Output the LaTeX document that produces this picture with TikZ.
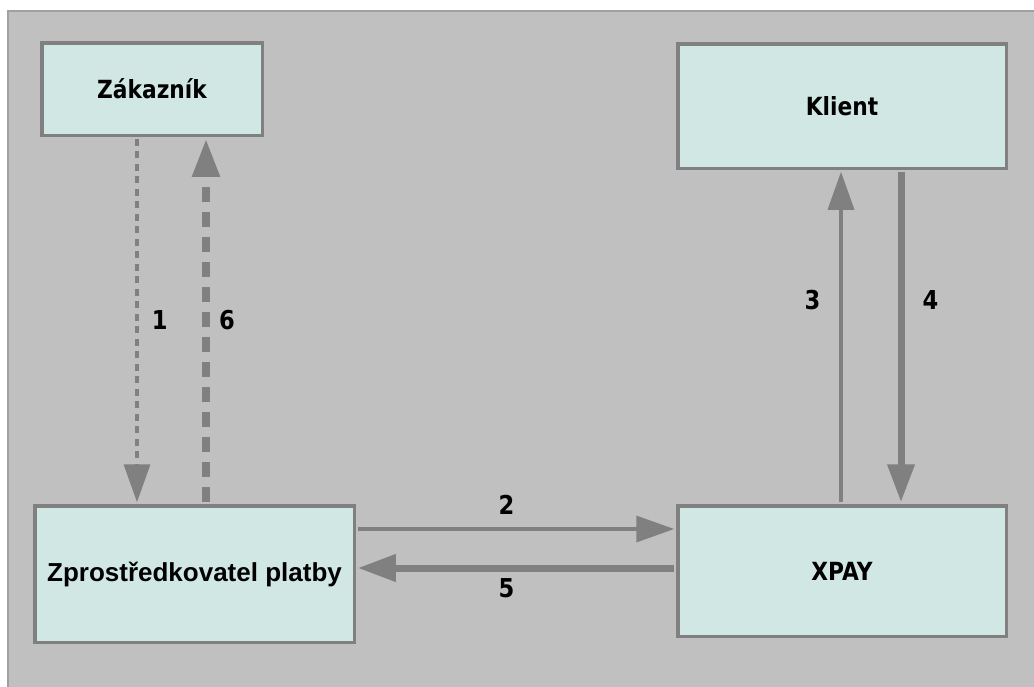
\documentclass[tikz,border=0pt]{standalone}
\usepackage{fontspec}
\usetikzlibrary{arrows.meta}
\newfontfamily\lblfont[FakeStretch=0.87]{DejaVu Sans}
\newfontfamily\arialfont{Liberation Sans}
\definecolor{boxfill}{HTML}{D0E7E4}
\definecolor{linegray}{HTML}{808080}
\definecolor{backgray}{HTML}{C0C0C0}
\definecolor{framegray}{HTML}{A0A0A0}

\begin{document}
\begin{tikzpicture}[x=1pt,y=-1pt,
    box/.style={rectangle,draw=linegray,fill=boxfill,line width=3.5pt,inner sep=0pt,
        font=\lblfont\bfseries\fontsize{25}{30}\selectfont},
    flow/.style={draw=linegray,line width=3.5pt,shorten >=1.75pt,shorten <=1.75pt,
        -{Triangle[length=38pt,width=26pt]}},
    heavy/.style={flow,line width=7pt},
    num/.style={font=\lblfont\bfseries\fontsize{26}{30}\selectfont,inner sep=0pt}]
    \useasboundingbox (0,0) rectangle (1034,686);
    \draw[fill=backgray,draw=framegray,line width=1.5pt] (8,11) rectangle (1040,692);

    % parties
    \node[box,minimum width=220.5pt,minimum height=92.5pt] (zak) at (152,89) {Zákazník};
    \node[box,minimum width=328.5pt,minimum height=124.5pt] (klient) at (842,106) {Klient};
    \node[box,minimum width=319.5pt,minimum height=136.5pt,
          font=\arialfont\bfseries\fontsize{26}{30}\selectfont] (zpr) at (194.5,574) {Zprostředkovatel platby};
    \node[box,minimum width=328.5pt,minimum height=130.5pt] (xpay) at (842,571) {XPAY};

    % lanes of the connectors
    \coordinate (c1) at (137,0);
    \coordinate (c6) at (206,0);
    \coordinate (c3) at (841,0);
    \coordinate (c4) at (901,0);
    \coordinate (r2) at (0,529);
    \coordinate (r5) at (0,568);

    \draw[flow,dash pattern=on 7pt off 5.5pt]
        (zak.south -| c1) -- node[num,right=13pt] {1} (zpr.north -| c1);
    \draw[heavy,line width=8pt,dash pattern=on 15pt off 10pt]
        (zpr.north -| c6) -- node[num,right=9pt] {6} (zak.south -| c6);
    \draw[flow] (zpr.east |- r2) -- node[num,pos=0.47,above=13pt] {2} (xpay.west |- r2);
    \draw[flow] (xpay.north -| c3) -- node[num,pos=0.61,left=19pt] {3} (klient.south -| c3);
    \draw[heavy] (klient.south -| c4) -- node[num,pos=0.39,right=18pt] {4} (xpay.north -| c4);
    \draw[heavy] (xpay.west |- r5) -- node[num,pos=0.53,below=7pt] {5} (zpr.east |- r5);
\end{tikzpicture}
\end{document}
